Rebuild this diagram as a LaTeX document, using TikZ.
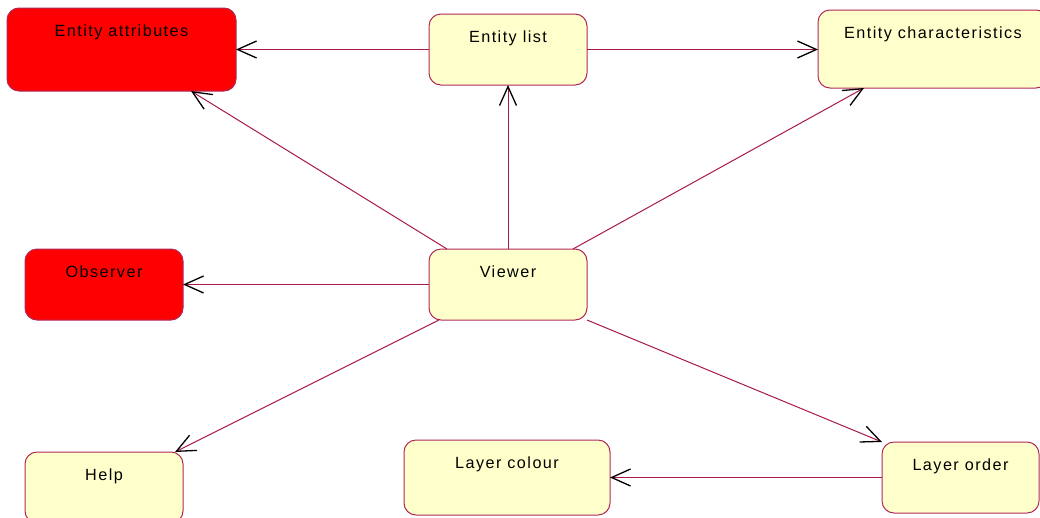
\documentclass[tikz,border=0pt]{standalone}
\usepackage{fontspec}
\usetikzlibrary{arrows.meta}
\newfontfamily\boxfont{Liberation Sans}[LetterSpace=9]
\definecolor{rimcol}{RGB}{176,40,88}
\definecolor{linkcol}{RGB}{168,24,76}
\definecolor{paleyellow}{RGB}{255,255,204}
\definecolor{hotred}{RGB}{255,0,0}
\begin{document}
\begin{tikzpicture}[x=1pt,y=-1pt,
  box/.style={draw=rimcol, line width=1pt, rounded corners=12pt, fill=paleyellow,
    anchor=north west, inner sep=0pt, outer sep=0pt},
  hot/.style={box, fill=hotred},
  title/.style={label={[anchor=base, yshift=-28pt, inner sep=0pt,
    font=\boxfont\fontsize{16.2}{19}\selectfont, text=black]north:#1}},
  link/.style={draw=linkcol, line width=1pt,
    -{Straight Barb[length=19pt, width=17pt, line width=1.3pt, color=black]}}]
\useasboundingbox (0,0) rectangle (1040,517);

% boxes
\node[hot, minimum width=229pt, minimum height=83pt, title={Entity attributes}] (eattr) at (7,8) {};
\node[box, minimum width=158pt, minimum height=71pt, title={Entity list}] (elist) at (429,14) {};
\node[box, minimum width=230pt, minimum height=78pt, title={Entity characteristics}] (echar) at (818,10) {};
\node[hot, minimum width=158pt, minimum height=71pt, title={Observer}] (observer) at (25,249) {};
\node[box, minimum width=158pt, minimum height=71pt, title={Viewer}] (viewer) at (429,249) {};
\node[box, minimum width=158pt, minimum height=71pt, title={Help}] (help) at (25,452) {};
\node[box, minimum width=206pt, minimum height=75pt, title={Layer colour}] (lcolour) at (404,440) {};
\node[box, minimum width=157pt, minimum height=71pt, title={Layer order}] (lorder) at (882,442) {};

% connectors
\draw[link] (elist.west) -- (eattr.east |- elist.west);
\draw[link] (elist.east) -- (echar.west |- elist.east);
\draw[link] (viewer.north) -- (elist.south);
\draw[link] ([xshift=18pt]viewer.north west) -- ([xshift=-45pt]eattr.south east);
\draw[link] ([xshift=-14pt]viewer.north east) -- ([xshift=46pt]echar.south west);
\draw[link] (viewer.west) -- (observer.east);
\draw[link] ([xshift=10pt]viewer.south west) -- ([xshift=-8pt]help.north east);
\draw[link] (viewer.south east) -- (lorder.north west);
\draw[link] (lorder.west) -- (lcolour.east |- lorder.west);
\end{tikzpicture}
\end{document}
